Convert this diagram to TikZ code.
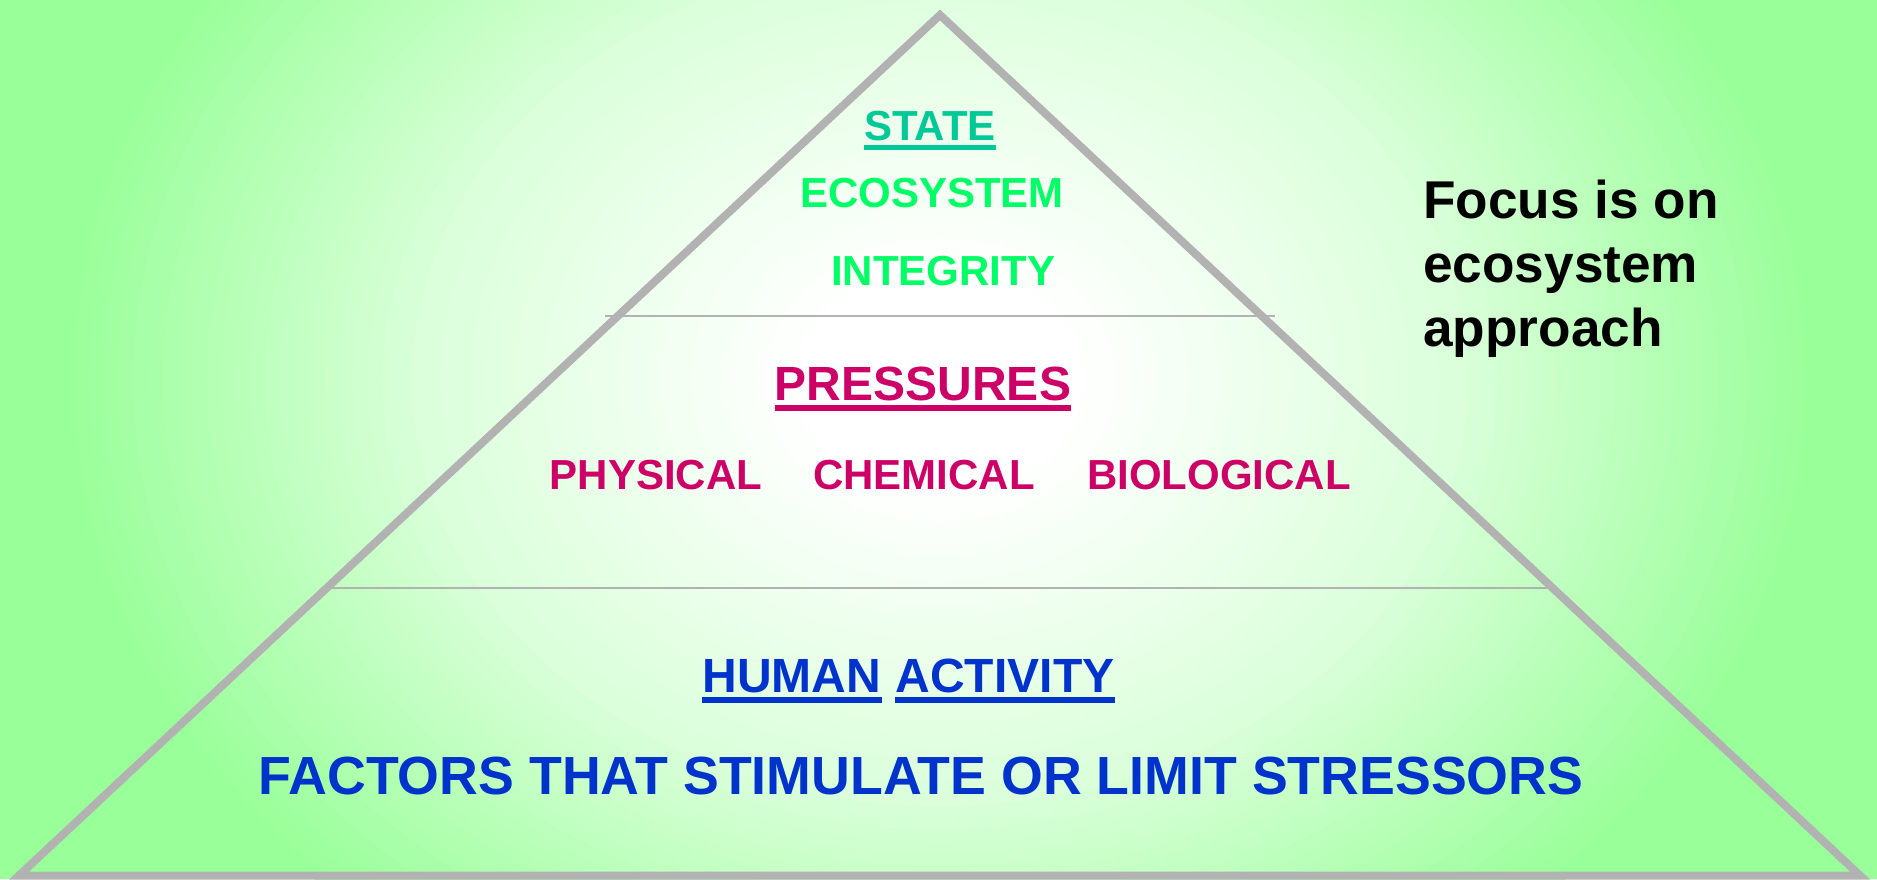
\documentclass[tikz,border=0pt]{standalone}
\usepackage{fontspec}
\setmainfont{Liberation Sans}
\definecolor{bggreen}{RGB}{153,255,153}
\definecolor{lightg}{RGB}{218,255,218}
\definecolor{lgray}{RGB}{178,178,178}
\definecolor{tealc}{RGB}{0,200,150}
\definecolor{greenc}{RGB}{0,255,102}
\definecolor{magc}{RGB}{204,0,102}
\definecolor{bluec}{RGB}{0,51,204}
\begin{document}
\begin{tikzpicture}[x=1pt,y=-1pt,
  lbl/.style={inner sep=0pt, anchor=base},
  fA/.style={font=\bfseries\fontsize{42}{50}\selectfont},
  fB/.style={font=\bfseries\fontsize{48}{56}\selectfont},
  fC/.style={font=\bfseries\fontsize{53.7}{60}\selectfont},
  focus/.style={inner sep=0pt, anchor=base west, font=\bfseries\fontsize{53.2}{60}\selectfont},
  ul/.style={line width=5pt},
  frame/.style={draw=lgray, line width=8pt, line join=miter},
  divider/.style={draw=lgray, line width=2pt}]
\useasboundingbox (0,0) rectangle (1877,879);
% background: elliptical gradient, green at the edges, white near the centre
\begin{scope}
  \clip (0,0) rectangle (1877,879);
  \fill[bggreen] (0,0) rectangle (1877,879);
  \foreach \i in {60,59,...,1}{
    \pgfmathsetmacro{\t}{\i/60}
    \pgfmathsetmacro{\pa}{max(0,min(100,(\t-0.6)/0.4*100))}
    \pgfmathsetmacro{\pb}{max(0,min(100,(\t-0.16)/0.44*100))}
    \ifdim\t pt>0.6pt \colorlet{ringc}{bggreen!\pa!lightg}\else\colorlet{ringc}{lightg!\pb!white}\fi
    \fill[ringc] (940,380) ellipse [x radius=880*\t, y radius=710*\t];
  }
\end{scope}
% pyramid
\coordinate (apex) at (940,15);
\coordinate (bl) at (19,875.5);
\coordinate (br) at (1860,875.5);
\draw[frame] (bl) -- (apex) -- (br) -- cycle;
\coordinate (d1l) at (605,316);
\coordinate (d1r) at (1275,316);
\coordinate (d2l) at (332,588);
\coordinate (d2r) at (1548,588);
\draw[divider] (d1l) -- (d1r);
\draw[divider] (d2l) -- (d2r);
% top tier
\node[lbl, fA, text=tealc] (state) at (930,140) {STATE};
\draw[ul, draw=tealc] ([yshift=-7.5pt]state.base west) -- ([yshift=-7.5pt]state.base east);
\node[lbl, fA, text=greenc] (eco) at (932,207) {ECOSYSTEM};
\node[lbl, fA, text=greenc] (integ) at (943,285) {INTEGRITY};
% middle tier
\node[lbl, fB, text=magc] (press) at (923,400) {PRESSURES};
\draw[line width=6pt, draw=magc] ([yshift=-8pt]press.base west) -- ([yshift=-8pt]press.base east);
\node[lbl, fA, text=magc] (phys) at (656,489) {PHYSICAL};
\node[lbl, fA, text=magc] (chem) at (924,489) {CHEMICAL};
\node[lbl, fA, text=magc] (bio) at (1219,489) {BIOLOGICAL};
% bottom tier
\node[lbl, fB, text=bluec] (human) at (792,692) {HUMAN};
\node[lbl, fB, text=bluec] (act) at (1005,692) {ACTIVITY};
\draw[line width=6pt, draw=bluec] ([yshift=-8pt]human.base west) -- ([yshift=-8pt]human.base east);
\draw[line width=6pt, draw=bluec] ([yshift=-8pt]act.base west) -- ([yshift=-8pt]act.base east);
\node[lbl, fC, text=bluec] (factors) at (921,794) {FACTORS THAT STIMULATE OR LIMIT STRESSORS};
% side note
\node[focus] (f1) at (1423,218) {Focus is on};
\node[focus] (f2) at (1423,282) {ecosystem};
\node[focus] (f3) at (1423,346) {approach};
\end{tikzpicture}
\end{document}
